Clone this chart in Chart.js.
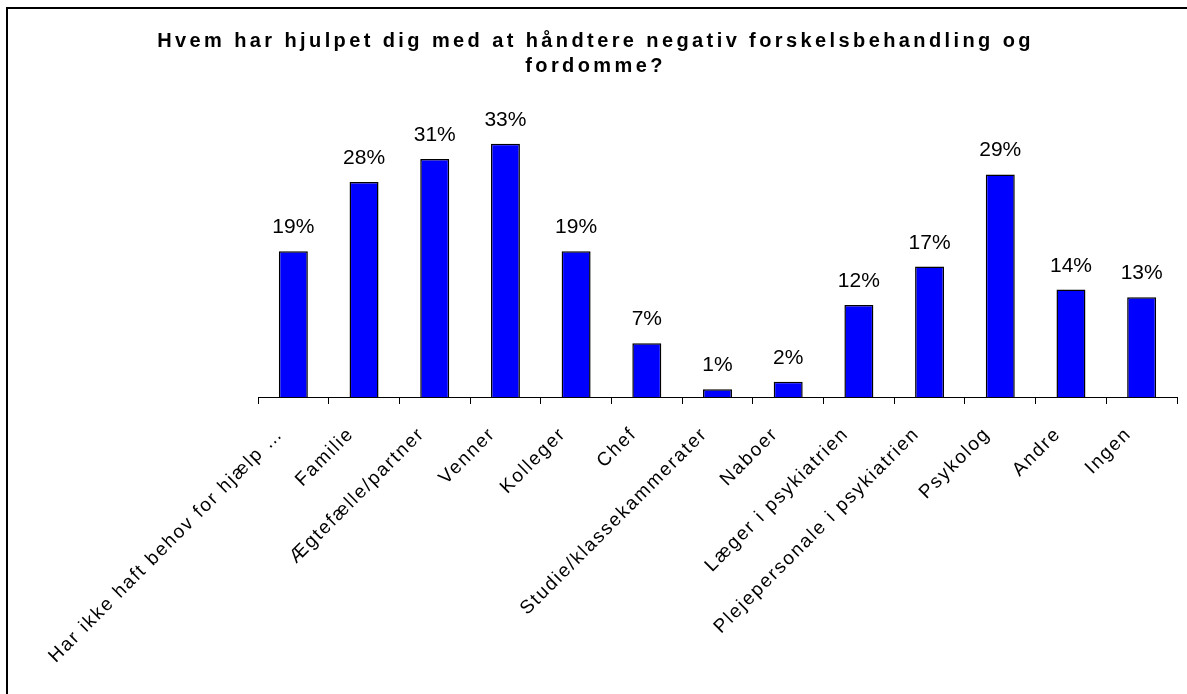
<!DOCTYPE html>
<html>
<head>
<meta charset="utf-8">
<script src="https://cdn.jsdelivr.net/npm/chart.js@4.4.1/dist/chart.umd.min.js"></script>
<style>
  html, body { margin: 0; padding: 0; background: #fff; overflow: hidden; }
  #wrap { position: relative; width: 1187px; height: 694px; }
  #frame { position: absolute; left: 6px; top: 7px; right: -10px; bottom: -10px;
           border-top: 2px solid #000; border-left: 2px solid #000; pointer-events: none; }
  canvas { position: absolute; left: 0; top: 0; }
</style>
</head>
<body>
<div id="wrap">
  <canvas id="c" width="1187" height="694"></canvas>
  <div id="frame"></div>
</div>
<script>
const titleLines = [
  'Hvem har hjulpet dig med at håndtere negativ forskelsbehandling og',
  'fordomme?'
];
const categories = [
  'Har ikke haft behov for hjælp …',
  'Familie',
  'Ægtefælle/partner',
  'Venner',
  'Kolleger',
  'Chef',
  'Studie/klassekammerater',
  'Naboer',
  'Læger i psykiatrien',
  'Plejepersonale i psykiatrien',
  'Psykolog',
  'Andre',
  'Ingen'
];
const shares = [19, 28, 31, 33, 19, 7, 1, 2, 12, 17, 29, 14, 13];
const shareLabels = shares.map(v => v + '%');

const FONT = '"Liberation Sans", Arial, sans-serif';

// Title drawn with wide tracking; tick labels share a lighter tracking
const spacedText = {
  id: 'spacedText',
  beforeDraw(chart) {
    const ctx = chart.ctx;
    ctx.save();
    ctx.font = 'bold 20px ' + FONT;
    ctx.letterSpacing = '3.4px';
    ctx.fillStyle = '#000';
    ctx.textAlign = 'center';
    ctx.textBaseline = 'alphabetic';
    titleLines.forEach((t, i) => ctx.fillText(t, chart.width / 2 + 2, 47 + i * 25));
    ctx.restore();
    ctx.letterSpacing = '1.8px';
  },
  beforeDatasetsDraw(chart) {
    chart.ctx.letterSpacing = '0px';
  }
};

// Percentage label above each bar
const barValues = {
  id: 'barValues',
  afterDatasetsDraw(chart) {
    const ctx = chart.ctx;
    const meta = chart.getDatasetMeta(0);
    ctx.save();
    ctx.font = '21px ' + FONT;
    ctx.fillStyle = '#000';
    ctx.textAlign = 'center';
    ctx.textBaseline = 'alphabetic';
    meta.data.forEach((bar, i) => ctx.fillText(shareLabels[i], bar.x, bar.y - 18));
    ctx.restore();
  }
};

new Chart(document.getElementById('c'), {
  type: 'bar',
  data: {
    labels: categories,
    datasets: [{
      data: shares,
      backgroundColor: '#0000FF',
      borderColor: '#000000',
      borderWidth: 1.5,
      barPercentage: 0.41,
      categoryPercentage: 1.0
    }]
  },
  options: {
    responsive: false,
    devicePixelRatio: 1,
    animation: false,
    layout: { padding: { left: 258, right: 10, top: 90, bottom: 0 } },
    plugins: {
      legend: { display: false },
      title: { display: false },
      tooltip: { enabled: false }
    },
    scales: {
      x: {
        offset: true,
        grid: {
          display: true, offset: true, drawOnChartArea: false, drawTicks: true,
          tickLength: 7, color: '#000', lineWidth: 1
        },
        border: { display: true, color: '#000', width: 1 },
        ticks: {
          autoSkip: false, minRotation: 45, maxRotation: 45, padding: 19, labelOffset: -13,
          color: '#000', font: { family: FONT, size: 19 }
        },
        afterFit(scale) {
          scale.paddingLeft = 0;
          scale.paddingRight = 0;
          scale.height = 297;
        }
      },
      y: { display: false, min: 0, max: 40 }
    }
  },
  plugins: [spacedText, barValues]
});
</script>
</body>
</html>
